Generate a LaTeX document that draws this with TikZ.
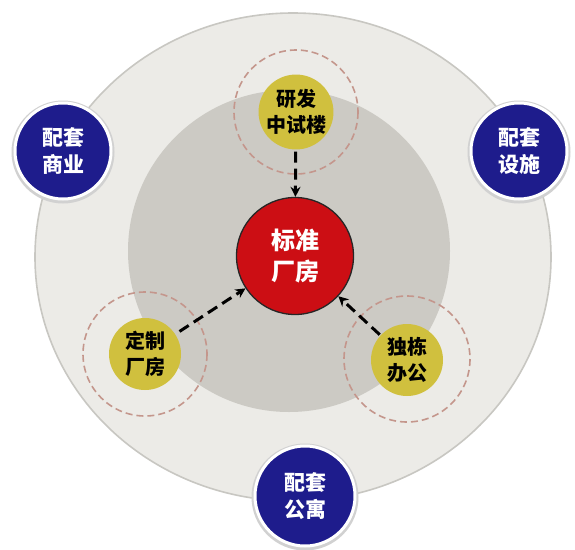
\documentclass[tikz,border=0pt]{standalone}
\usepackage{fontspec}
\newfontfamily\cjk{Noto Sans CJK SC}
\usetikzlibrary{arrows.meta}
\definecolor{outerfill}{RGB}{236,235,231}
\definecolor{outerline}{RGB}{200,199,194}
\definecolor{innerfill}{RGB}{204,202,196}
\definecolor{ringcol}{RGB}{196,150,140}
\definecolor{yellowfill}{RGB}{208,192,62}
\definecolor{redfill}{RGB}{204,14,20}
\definecolor{bluefill}{RGB}{30,28,140}
\tikzset{
  ybub/.style={circle, fill=yellowfill, minimum size=72pt, inner sep=0pt, align=center,
    font=\cjk\bfseries\fontsize{20}{26}\selectfont, text=black},
  rbub/.style={circle, fill=redfill, draw=black!85, line width=1.3pt, minimum size=117pt, inner sep=0pt,
    align=center, font=\cjk\bfseries\fontsize{24}{31}\selectfont, text=white},
  bbub/.style={circle, fill=bluefill, draw=white, line width=3pt, minimum size=96pt, inner sep=0pt,
    align=center, font=\cjk\bfseries\fontsize{21}{27}\selectfont, text=white},
  ring/.style={draw=ringcol, line width=1.6pt, dash pattern=on 7pt off 4pt},
  arr/.style={draw=black, line width=3pt, dash pattern=on 11pt off 6pt,
    -{Stealth[length=10pt,width=10pt]}},
}
\begin{document}
\begin{tikzpicture}[x=1pt,y=-1pt]
\useasboundingbox (0,0) rectangle (575,549);
\fill[white] (0,0) rectangle (575,549);
% outer and inner discs
\draw[outerline, fill=outerfill, line width=1.6pt] (293,257) ellipse [x radius=258, y radius=244];
\fill[innerfill] (289,251) circle (161);
% dashed rings
\draw[ring] (296,112) circle (62);
\draw[ring] (145,354) circle (62);
\draw[ring] (407,359) circle (63);
% centre
\node[rbub] (std) at (295,256) {标准\\厂房};
% yellow bubbles
\node[ybub] (rd) at (296,112) {研发\\中试楼};
\node[ybub] (dz) at (145,354) {定制\\厂房};
\node[ybub] (dd) at (407,360) {独栋\\办公};
% blue bubbles with faint shadow
\fill[black!18] (63,152) circle (51.5);
\fill[black!18] (519,152) circle (51.5);
\fill[black!18] (305,497) circle (53.5);
\node[bbub] (sy) at (63,151) {配套\\商业};
\node[bbub] (ss) at (519,151) {配套\\设施};
\node[bbub, minimum size=100pt] (gy) at (305,496) {配套\\公寓};
% arrows
\draw[arr, shorten <=2pt] (rd) -- (std);
\draw[arr, shorten <=5pt] (dz) -- (std);
\draw[arr, shorten <=1pt] (dd) -- (std);
\end{tikzpicture}
\end{document}
